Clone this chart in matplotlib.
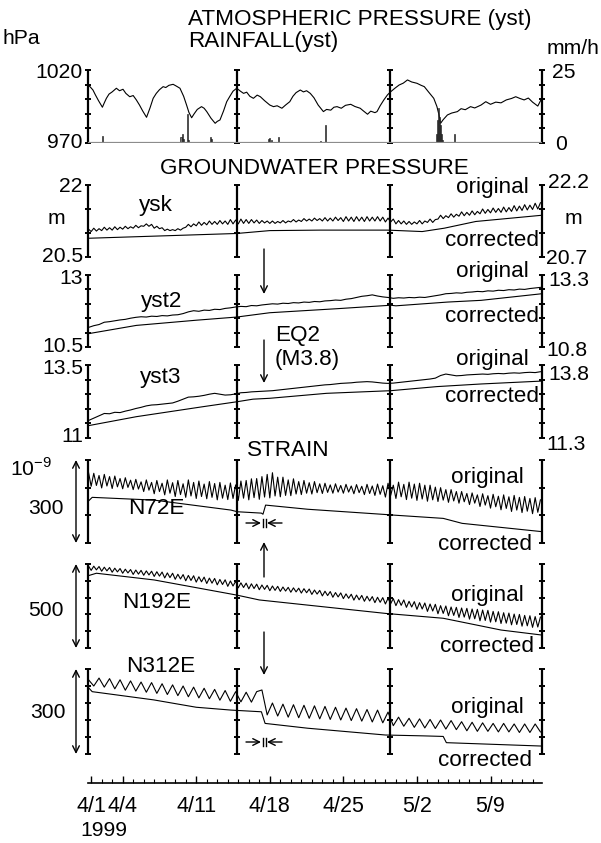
import numpy as np
import matplotlib.pyplot as plt
from matplotlib.ticker import MultipleLocator

plt.rcParams['font.family'] = ['Liberation Sans', 'DejaVu Sans']
plt.rcParams['mathtext.fontset'] = 'custom'
plt.rcParams['mathtext.rm'] = 'Liberation Sans'

W, H = 601, 843
X0, X1 = 88, 542          # left / right edge of every panel (pixels)
XLIM = (-0.3, 42.9)       # days since 1999-04-01 00:00

# vertical scale bars drawn inside each panel
bar_days = [-0.3, 13.9, 28.45, 42.9]

# ---------------- atmospheric pressure (hPa) and rainfall (mm/h) ----------------
p_day = [-0.3, -0.1, 0.17, 0.4, 0.7, 1.07, 1.25, 1.45, 1.7, 2.0, 2.4, 2.7, 3.03, 3.3, 3.67,
         4.0, 4.3, 4.6, 4.9, 5.27, 5.6, 5.9, 6.2, 6.5, 6.85, 7.1, 7.4, 7.8, 8.1, 8.45, 8.8,
         9.08, 9.3, 9.56, 9.8, 10.1, 10.5, 10.75, 11.0, 11.4, 11.8, 12.0, 12.26, 12.6, 12.9,
         13.2, 13.5, 13.85, 14.2, 14.5, 14.8, 15.1, 15.44, 15.8, 16.1, 16.5, 17.0, 17.35,
         17.7, 18.15, 18.5, 18.9, 19.2, 19.5, 19.9, 20.2, 20.5, 20.85, 21.2, 21.6, 22.1,
         22.4, 22.8, 23.1, 23.4, 23.8, 24.2, 24.7, 25.1, 25.6, 25.9, 26.3, 26.6, 27.0, 27.2,
         27.5, 27.85, 28.2, 28.5, 28.9, 29.3, 29.7, 30.1, 30.5, 31.0, 31.4, 31.7, 32.1, 32.6,
         32.9, 33.1, 33.25, 33.5, 33.9, 34.3, 34.85, 35.2, 35.6, 36.1, 36.5, 37.1, 37.55,
         38.0, 38.5, 39.0, 39.5, 40.0, 40.4, 40.8, 41.2, 41.6, 42.0, 42.5, 42.8]
p_hpa = [1009.7, 1008.5, 1006.3, 1003.0, 999.0, 994.5, 997.5, 1000.6, 1003.5, 1005.0, 1007.5,
         1005.8, 1006.8, 1004.0, 1001.7, 1002.5, 999.5, 996.0, 992.0, 987.6, 994.0, 1000.6,
         1004.0, 1006.5, 1008.6, 1008.0, 1009.5, 1010.2, 1009.0, 1007.5, 1002.0, 996.0, 991.0,
         987.3, 990.0, 993.0, 994.9, 993.8, 991.5, 987.0, 983.5, 984.8, 985.8, 992.0, 998.3,
         1002.0, 1005.5, 1007.5, 1005.5, 1004.0, 1004.8, 1002.0, 1000.6, 1002.8, 1001.7, 999.0,
         996.0, 994.9, 995.5, 993.8, 996.0, 998.3, 1002.0, 1004.5, 1006.3, 1005.0, 1005.8,
         1004.0, 1001.0, 996.0, 991.5, 993.0, 992.5, 994.5, 994.9, 993.8, 995.8, 996.5, 995.0,
         993.8, 992.0, 989.7, 991.8, 990.8, 991.5, 995.5, 999.5, 1003.0, 1005.1, 1007.5,
         1009.7, 1011.0, 1013.2, 1011.8, 1010.9, 1009.5, 1008.6, 1005.0, 1000.6, 995.0, 989.2,
         983.5, 986.0, 989.2, 990.5, 991.5, 993.5, 992.8, 994.9, 994.0, 996.0, 998.3, 996.5,
         998.0, 997.5, 999.5, 1000.5, 1001.7, 1000.5, 999.5, 1000.8, 998.0, 995.3, 999.5]

rain_day = [1.05, 8.55, 8.65, 8.75, 9.2, 9.3, 11.35, 11.45, 12.0, 16.85, 16.95, 17.2, 17.85,
            21.85, 22.3, 32.85, 32.95, 33.05, 33.15, 33.25, 33.35, 33.45, 34.6]
rain_mm = [2.5, 2.0, 3.0, 1.2, 10.0, 1.0, 2.0, 1.5, 0.4, 1.5, 1.8, 1.0, 2.0,
           0.8, 6.0, 3.0, 8.0, 12.0, 9.0, 6.0, 3.0, 1.0, 3.0]

# ---------------- groundwater pressure (m) ----------------
# ysk original, 6-hourly from day -0.25
ysk_orig = [21.08,
    21.03, 21.10, 21.04, 21.09, 21.05, 21.12, 21.06, 21.11, 21.06, 21.13, 21.07, 21.12,
    21.08, 21.14, 21.09, 21.13, 21.10, 21.16, 21.11, 21.15, 21.14, 21.19, 21.14, 21.18,
    21.10, 21.14, 21.09, 21.11, 21.05, 21.08, 21.05, 21.07, 21.05, 21.09, 21.06, 21.10,
    21.12, 21.18, 21.13, 21.19, 21.15, 21.23, 21.16, 21.22, 21.17, 21.25, 21.18, 21.24,
    21.18, 21.26, 21.19, 21.25, 21.18, 21.28, 21.19, 21.27, 21.19, 21.29, 21.20, 21.28,
    21.20, 21.28, 21.21, 21.27, 21.20, 21.26, 21.21, 21.25, 21.20, 21.25, 21.20, 21.24,
    21.21, 21.26, 21.21, 21.25, 21.23, 21.28, 21.23, 21.27, 21.24, 21.30, 21.25, 21.29,
    21.25, 21.31, 21.26, 21.30, 21.25, 21.32, 21.25, 21.31, 21.25, 21.33, 21.26, 21.32,
    21.24, 21.34, 21.25, 21.33, 21.24, 21.34, 21.25, 21.33, 21.24, 21.34, 21.25, 21.33,
    21.25, 21.34, 21.25, 21.33, 21.23, 21.31, 21.23, 21.29, 21.19, 21.26, 21.19, 21.25,
    21.18, 21.24, 21.18, 21.23, 21.19, 21.26, 21.19, 21.25, 21.22, 21.29, 21.22, 21.28,
    21.29, 21.37, 21.30, 21.36, 21.32, 21.40, 21.33, 21.39, 21.35, 21.44, 21.36, 21.43,
    21.37, 21.46, 21.38, 21.45, 21.40, 21.50, 21.41, 21.49, 21.42, 21.52, 21.43, 21.51,
    21.43, 21.54, 21.44, 21.53, 21.45, 21.57, 21.46, 21.56, 21.47, 21.59, 21.48, 21.58,
    21.49, 21.62, 21.50, 21.63]
ysk_corr_day = [-0.3, 13.85, 17.0, 21.8, 28.2, 31.5, 33.6, 36.6, 42.9]
ysk_corr = [20.89, 20.99, 21.05, 21.06, 21.06, 21.03, 21.10, 21.24, 21.37]

# yst2 / yst3 original, 12-hourly from day -0.25
yst2_orig = [11.18,
    11.24, 11.28, 11.36, 11.38, 11.41, 11.44, 11.46, 11.50, 11.53, 11.55, 11.54, 11.57,
    11.56, 11.59, 11.58, 11.61, 11.62, 11.66, 11.72, 11.76, 11.74, 11.78, 11.77, 11.81,
    11.80, 11.84, 11.86, 11.89, 11.91, 11.90, 11.94, 11.93, 11.96, 11.98, 12.00, 11.99,
    12.02, 12.01, 12.04, 12.03, 12.06, 12.05, 12.08, 12.07, 12.10, 12.11, 12.13, 12.12,
    12.16, 12.18, 12.22, 12.26, 12.28, 12.31, 12.27, 12.24, 12.22, 12.19, 12.21, 12.20,
    12.22, 12.21, 12.23, 12.22, 12.25, 12.28, 12.31, 12.35, 12.36, 12.38, 12.37, 12.40,
    12.41, 12.43, 12.42, 12.45, 12.44, 12.47, 12.46, 12.49, 12.48, 12.51, 12.50, 12.53,
    12.55, 12.57]
yst2_corr_day = [-0.3, 4.3, 10.0, 13.85, 17.0, 23.4, 28.5, 29.0, 33.9, 37.1, 42.9]
yst2_corr = [10.96, 11.25, 11.43, 11.54, 11.69, 11.83, 11.95, 11.93, 12.06, 12.12, 12.35]

yst3_orig = [11.60,
    11.68, 11.76, 11.84, 11.83, 11.88, 11.87, 11.92, 11.96, 12.01, 12.05, 12.10, 12.13,
    12.14, 12.16, 12.18, 12.20, 12.26, 12.33, 12.40, 12.41, 12.43, 12.46, 12.50, 12.53,
    12.50, 12.47, 12.48, 12.51, 12.55, 12.56, 12.58, 12.59, 12.60, 12.61, 12.62, 12.64,
    12.66, 12.68, 12.70, 12.72, 12.74, 12.76, 12.78, 12.80, 12.82, 12.83, 12.85, 12.87,
    12.88, 12.89, 12.91, 12.92, 12.93, 12.92, 12.90, 12.88, 12.87, 12.88, 12.90, 12.92,
    12.94, 12.96, 12.98, 13.00, 13.02, 13.05, 13.14, 13.19, 13.16, 13.13, 13.14, 13.16,
    13.17, 13.18, 13.19, 13.18, 13.20, 13.21, 13.20, 13.22, 13.23, 13.22, 13.24, 13.25,
    13.24, 13.27]
yst3_corr_day = [-0.3, 4.3, 10.6, 13.85, 15.4, 17.0, 22.4, 28.5, 32.9, 37.1, 42.9]
yst3_corr = [11.42, 11.73, 12.07, 12.24, 12.33, 12.36, 12.53, 12.62, 12.76, 12.85, 12.95]

# ---------------- strain (1e-9) ----------------
# N72E / N192E original, 6-hourly from day -0.25
n72e_orig = [255,
    205, 252, 208, 244, 199, 248, 206, 240, 197, 242, 203, 233, 196, 236, 201, 227,
    193, 230, 195, 221, 186, 228, 191, 219, 178, 226, 186, 216, 174, 228, 180, 218,
    168, 226, 175, 214, 165, 228, 170, 219, 161, 224, 168, 213, 160, 222, 165, 215,
    156, 219, 162, 209, 157, 217, 161, 210, 154, 224, 162, 226, 156, 232, 164, 233,
    158, 240, 166, 248, 163, 254, 170, 238, 167, 238, 172, 228, 171, 232, 177, 222,
    175, 226, 180, 218, 177, 222, 182, 214, 179, 216, 183, 210, 180, 214, 184, 208,
    180, 212, 184, 206, 178, 211, 182, 205, 175, 212, 179, 206, 172, 213, 176, 207,
    166, 216, 172, 209, 161, 220, 167, 212, 157, 220, 162, 213, 154, 216, 159, 209,
    151, 209, 156, 202, 150, 200, 155, 193, 147, 193, 152, 186, 144, 186, 149, 179,
    139, 181, 144, 174, 132, 178, 137, 171, 126, 176, 131, 169, 120, 174, 125, 167,
    114, 172, 119, 165, 110, 168, 115, 161, 106, 164, 111, 156]
n72e_corr_day = [-0.3, 0.1, 6.0, 13.3, 13.9, 16.2, 16.35, 16.6, 20.6, 28.0, 28.7, 33.5, 35.3, 42.9]
n72e_corr = [150, 165, 155, 119, 113, 108, 104, 137, 122, 103, 101, 89, 71, 41]

n192e_orig = [488,
    462, 487, 465, 485, 457, 481, 459, 479, 451, 475, 453, 473, 445, 469, 447, 467,
    438, 464, 440, 462, 433, 459, 435, 457, 426, 454, 428, 452, 417, 447, 419, 445,
    409, 439, 411, 437, 400, 432, 402, 430, 392, 424, 394, 422, 384, 416, 386, 414,
    376, 408, 378, 406, 367, 399, 369, 397, 358, 388, 360, 386, 352, 382, 354, 380,
    347, 375, 349, 373, 341, 369, 343, 367, 337, 363, 339, 361, 332, 358, 334, 356,
    327, 353, 329, 351, 319, 345, 321, 343, 310, 338, 312, 336, 302, 330, 304, 328,
    294, 322, 296, 320, 285, 315, 287, 313, 278, 308, 280, 306, 270, 302, 272, 300,
    262, 296, 264, 294, 252, 288, 254, 286, 242, 278, 244, 276, 230, 270, 232, 268,
    218, 262, 220, 260, 204, 252, 206, 250, 192, 244, 194, 242, 182, 238, 184, 236,
    172, 232, 174, 230, 162, 226, 164, 224, 154, 218, 156, 216, 146, 210, 148, 208,
    138, 202, 140, 200, 130, 194, 132, 192, 123, 187, 125, 184]
n192e_corr_day = [-0.3, 0.5, 6.0, 13.85, 16.0, 28.0, 33.5, 39.0, 42.9]
n192e_corr = [430, 445, 405, 315, 286, 206, 177, 107, 77]

# N312E original, 12-hourly from day -0.25
n312e_orig = [262,
    240, 268, 236, 266, 230, 262, 225, 258, 222, 254, 218, 252, 214, 248, 210, 244,
    206, 240, 202, 236, 198, 232, 195, 228, 190, 224, 186, 220, 184, 218, 183, 220,
    226, 138, 180, 134, 176, 130, 174, 128, 172, 126, 170, 124, 168, 122, 165, 120,
    162, 118, 160, 116, 157, 113, 155, 110, 148, 100, 130, 98, 126, 94, 124, 92,
    122, 90, 120, 88, 118, 86, 114, 82, 112, 80, 110, 80, 108, 78, 108, 78,
    106, 76, 106, 76, 106, 78]
n312e_corr_day = [-0.3, 0.1, 5.95, 10.0, 13.3, 16.2, 16.55, 20.6, 28.0, 31.6, 33.5, 33.8, 42.9]
n312e_corr = [236, 220, 191, 165, 155, 149, 108, 91, 67, 64, 62, 40, 28]

date_days = [0, 3, 10, 17, 24, 31, 38]
date_labels = ['4/1', '4/4', '4/11', '4/18', '4/25', '5/2', '5/9']

fig = plt.figure(figsize=(W / 100, H / 100), dpi=100)


def panel(top, bottom, ylim, nticks):
    ax = fig.add_axes([X0 / W, 1 - bottom / H, (X1 - X0) / W, (bottom - top) / H])
    ax.set_xlim(XLIM)
    ax.set_ylim(ylim)
    ax.axis('off')
    ticks = np.linspace(ylim[0], ylim[1], nticks)
    for d in bar_days:
        ax.plot([d, d], ylim, color='k', lw=1.6, clip_on=False, solid_capstyle='butt')
        ax.plot([d] * nticks, ticks, ls='none', marker='_', ms=5, mew=1.4,
                color='k', clip_on=False)
    return ax


def t_grid(vals, step):
    return -0.25 + step * np.arange(len(vals))


LW = 0.8

# pressure + rain
ax_p = panel(70, 143, (970, 1020), 6)
ax_p.plot(p_day, p_hpa, color='k', lw=LW)
ax_r = ax_p.twinx()
ax_r.set_ylim(0, 25)
ax_r.axis('off')
ax_r.plot(XLIM, [0, 0], color='0.55', lw=1.6)
ax_r.bar(rain_day, rain_mm, width=0.1, color='0.45', edgecolor='k', lw=0.4)

# groundwater
ax = panel(185, 257, (20.5, 22.0), 4)
ax.plot(t_grid(ysk_orig, 0.25), ysk_orig, color='k', lw=LW)
ax.plot(ysk_corr_day, ysk_corr, color='k', lw=LW)

ax = panel(275, 347, (10.5, 13.0), 6)
ax.plot(t_grid(yst2_orig, 0.5), yst2_orig, color='k', lw=LW)
ax.plot(yst2_corr_day, yst2_corr, color='k', lw=LW)

ax = panel(365, 438, (11.0, 13.5), 6)
ax.plot(t_grid(yst3_orig, 0.5), yst3_orig, color='k', lw=LW)
ax.plot(yst3_corr_day, yst3_corr, color='k', lw=LW)

# strain
ax = panel(460, 543, (0, 300), 4)
ax.plot(t_grid(n72e_orig, 0.25), n72e_orig, color='k', lw=LW)
ax.plot(n72e_corr_day, n72e_corr, color='k', lw=LW)

ax = panel(564, 648, (0, 500), 6)
ax.plot(t_grid(n192e_orig, 0.25), n192e_orig, color='k', lw=LW)
ax.plot(n192e_corr_day, n192e_corr, color='k', lw=LW)

ax = panel(669, 754, (0, 300), 6)
ax.plot(t_grid(n312e_orig, 0.5), n312e_orig, color='k', lw=LW)
ax.plot(n312e_corr_day, n312e_corr, color='k', lw=LW)

# date axis
axt = fig.add_axes([X0 / W, 1 - 783 / H, (X1 - X0) / W, 0.001])
axt.set_xlim(XLIM)
for s in ['top', 'left', 'right']:
    axt.spines[s].set_visible(False)
axt.spines['bottom'].set_linewidth(1.2)
axt.set_yticks([])
axt.set_xticks(date_days)
axt.set_xticklabels(date_labels)
axt.xaxis.set_minor_locator(MultipleLocator(1))
axt.tick_params(axis='x', which='major', direction='in', length=5, width=1.0,
                labelsize=15.5, pad=9)
axt.tick_params(axis='x', which='minor', direction='in', length=3, width=0.8)

# labels and arrows in pixel coordinates
ov = fig.add_axes([0, 0, 1, 1])
ov.set_xlim(0, W)
ov.set_ylim(H, 0)
ov.axis('off')

FS = 16.2
NS = 15.2


def txt(x, y, s, ha='center', fs=FS):
    ov.text(x, y, s, ha=ha, va='center', fontsize=fs)


txt(188, 20, 'ATMOSPHERIC PRESSURE (yst)', ha='left')
txt(188, 42, 'RAINFALL(yst)', ha='left')
txt(2, 38, 'hPa', ha='left', fs=NS)
txt(599, 48, 'mm/h', ha='right', fs=NS)
txt(83, 72, '1020', ha='right', fs=NS)
txt(83, 143, '970', ha='right', fs=NS)
txt(552, 72, '25', ha='left', fs=NS)
txt(555, 145, '0', ha='left', fs=NS)

txt(314, 168, 'GROUNDWATER PRESSURE')
txt(83, 186, '22', ha='right', fs=NS)
txt(83, 256, '20.5', ha='right', fs=NS)
txt(56, 218, 'm', fs=NS)
txt(573, 218, 'm', fs=NS)
txt(548, 183, '22.2', ha='left', fs=NS)
txt(546, 258, '20.7', ha='left', fs=NS)
txt(156, 205, 'ysk')
txt(492, 188, 'original')
txt(492, 240, 'corrected')

txt(83, 278, '13', ha='right', fs=NS)
txt(83, 347, '10.5', ha='right', fs=NS)
txt(548, 281, '13.3', ha='left', fs=NS)
txt(546, 350, '10.8', ha='left', fs=NS)
txt(162, 301, 'yst2')
txt(492, 272, 'original')
txt(492, 317, 'corrected')

txt(83, 368, '13.5', ha='right', fs=NS)
txt(83, 437, '11', ha='right', fs=NS)
txt(548, 374, '13.8', ha='left', fs=NS)
txt(546, 444, '11.3', ha='left', fs=NS)
txt(161, 378, 'yst3')
txt(492, 359, 'original')
txt(492, 397, 'corrected')

txt(275, 336, 'EQ2', ha='left')
txt(275, 360, '(M3.8)', ha='left')

txt(288, 450, 'STRAIN')
txt(10, 468, r'10$^{-9}$', ha='left', fs=NS)
txt(46, 508, '300', fs=NS)
txt(156, 508, 'N72E')
txt(487, 477, 'original')
txt(485, 545, 'corrected')

txt(46, 610, '500', fs=NS)
txt(157, 603, 'N192E')
txt(487, 595, 'original')
txt(487, 647, 'corrected')

txt(161, 667, 'N312E')
txt(48, 713, '300', fs=NS)
txt(487, 707, 'original')
txt(485, 760, 'corrected')

txt(104, 831, '1999', fs=NS)

arrow = dict(arrowstyle='->', lw=1.0, color='k', shrinkA=0, shrinkB=0, mutation_scale=12)
darrow = dict(arrowstyle='<->', lw=1.0, color='k', shrinkA=0, shrinkB=0, mutation_scale=12)

# EQ2 arrows
ov.annotate('', xy=(264, 294), xytext=(264, 249), arrowprops=arrow)
ov.annotate('', xy=(264, 383), xytext=(264, 340), arrowprops=arrow)
ov.annotate('', xy=(264, 542), xytext=(264, 577), arrowprops=arrow)
ov.annotate('', xy=(264, 675), xytext=(264, 632), arrowprops=arrow)

# strain scale arrows
for top, bottom in [(460, 543), (564, 648), (669, 754)]:
    ov.annotate('', xy=(76, top), xytext=(76, bottom), arrowprops=darrow)

# window markers ->||<-
for y in [523, 742]:
    ov.annotate('', xy=(261, y), xytext=(246, y), arrowprops=arrow)
    ov.annotate('', xy=(267, y), xytext=(282, y), arrowprops=arrow)
    ov.plot([262.5, 262.5], [y - 4, y + 4], color='k', lw=1.0)
    ov.plot([265.5, 265.5], [y - 4, y + 4], color='k', lw=1.0)

fig.savefig('out.png', dpi=100)
